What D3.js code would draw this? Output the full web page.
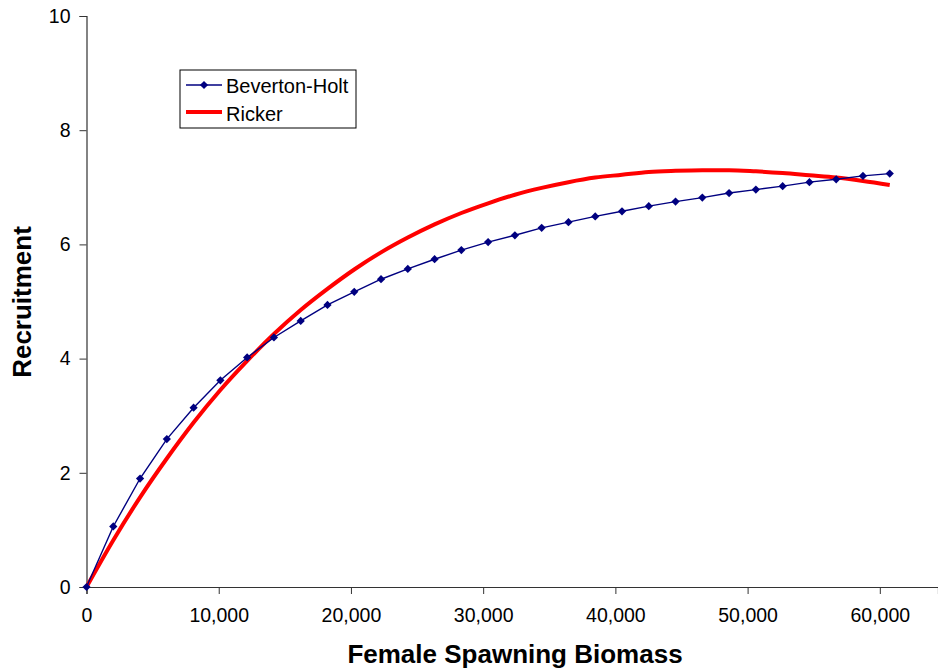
<!DOCTYPE html>
<html>
<head>
<meta charset="utf-8">
<script src="https://cdn.jsdelivr.net/npm/d3@7"></script>
<style>
  body { margin: 0; background: #fff; }
  svg { display: block; font-family: "Liberation Sans", Arial, sans-serif; }
</style>
</head>
<body>
<svg id="chart"></svg>
<script>
// data
const biomass = [0, 2025, 4050, 6075, 8100, 10125, 12150, 14175, 16200, 18225,
  20250, 22275, 24300, 26325, 28350, 30375, 32400, 34425, 36450, 38475,
  40500, 42525, 44550, 46575, 48600, 50625, 52650, 54675, 56700, 58725, 60750];
const bevertonHolt = [0, 1.06, 1.90, 2.59, 3.14, 3.62, 4.02, 4.37, 4.66, 4.94,
  5.17, 5.39, 5.57, 5.74, 5.90, 6.04, 6.16, 6.29, 6.39, 6.49,
  6.58, 6.67, 6.75, 6.82, 6.90, 6.96, 7.02, 7.09, 7.14, 7.20, 7.24];
const ricker = [0, 0.82, 1.57, 2.25, 2.88, 3.45, 3.96, 4.43, 4.85, 5.22,
  5.56, 5.86, 6.12, 6.35, 6.55, 6.72, 6.87, 6.99, 7.09, 7.17,
  7.22, 7.27, 7.29, 7.30, 7.30, 7.28, 7.25, 7.21, 7.17, 7.11, 7.04];
const xTicks = [0, 10000, 20000, 30000, 40000, 50000, 60000];
const yTicks = [0, 2, 4, 6, 8, 10];
const seriesNames = ["Beverton-Holt", "Ricker"];

const width = 938;
const height = 671;
const svg = d3.select("#chart").attr("width", width).attr("height", height);

const x = d3.scaleLinear().domain([0, 64400]).range([86.5, 938]);
const y = d3.scaleLinear().domain([0, 10]).range([587, 16]);

//axes
const xAxis = svg.append("g")
  .attr("transform", `translate(0,${y(0)})`)
  .call(d3.axisBottom(x).tickValues(xTicks).tickSizeOuter(0).tickSize(7).tickPadding(14)
    .tickFormat(d3.format(",")));
const yAxis = svg.append("g")
  .attr("transform", `translate(${x(0)},0)`)
  .call(d3.axisLeft(y).tickValues(yTicks).tickSizeOuter(0).tickSize(7).tickPadding(9));
[xAxis, yAxis].forEach((a) => {
  a.select(".domain").attr("stroke", "#333").attr("stroke-width", 1.2);
  a.selectAll(".tick line").attr("stroke", "#333");
  a.selectAll("text").attr("fill", "#000").style("font-size", "19.5px")
    .style("font-family", "'Liberation Sans', Arial, sans-serif");
});

svg.append("text")
  .attr("x", 515)
  .attr("y", 663)
  .attr("text-anchor", "middle")
  .style("font-size", "26px")
  .style("font-weight", "bold")
  .text("Female Spawning Biomass");
svg.append("text")
  .attr("transform", `translate(31,302) rotate(-90)`)
  .attr("text-anchor", "middle")
  .style("font-size", "26px")
  .style("font-weight", "bold")
  .text("Recruitment");

//lines
const bhData = biomass.map((s, i) => ({ s: s, r: bevertonHolt[i] }));
const rkData = biomass.map((s, i) => ({ s: s, r: ricker[i] }));

svg.append("path")
  .datum(rkData)
  .attr("fill", "none")
  .attr("stroke", "#ff0000")
  .attr("stroke-width", 4)
  .attr("d", d3.line().x((d) => x(d.s)).y((d) => y(d.r)).curve(d3.curveMonotoneX));

svg.append("path")
  .datum(bhData)
  .attr("fill", "none")
  .attr("stroke", "#000080")
  .attr("stroke-width", 1.4)
  .attr("d", d3.line().x((d) => x(d.s)).y((d) => y(d.r)));

const diamond = d3.symbol().type(d3.symbolSquare).size(34);
svg.append("g")
  .selectAll("path")
  .data(bhData)
  .enter()
  .append("path")
  .attr("d", diamond)
  .attr("fill", "#000080")
  .attr("transform", (d) => `translate(${x(d.s)},${y(d.r)}) rotate(45)`);

//legend
const lgd = svg.append("g").attr("transform", "translate(180,70)");
lgd.append("rect")
  .attr("width", 176)
  .attr("height", 58)
  .attr("fill", "#fff")
  .attr("stroke", "#000")
  .attr("stroke-width", 1);
lgd.append("line")
  .attr("x1", 6).attr("x2", 42).attr("y1", 15).attr("y2", 15)
  .attr("stroke", "#000080").attr("stroke-width", 1.4);
lgd.append("path")
  .attr("d", diamond)
  .attr("fill", "#000080")
  .attr("transform", "translate(24,15) rotate(45)");
lgd.append("line")
  .attr("x1", 6).attr("x2", 42).attr("y1", 42).attr("y2", 42)
  .attr("stroke", "#ff0000").attr("stroke-width", 4);
lgd.selectAll(".lgd_label")
  .data(seriesNames)
  .enter()
  .append("text")
  .attr("class", "lgd_label")
  .attr("x", 46)
  .attr("y", (d, i) => 16 + i * 28)
  .attr("dy", "0.35em")
  .style("font-size", "20px")
  .text((d) => d);
</script>
</body>
</html>
